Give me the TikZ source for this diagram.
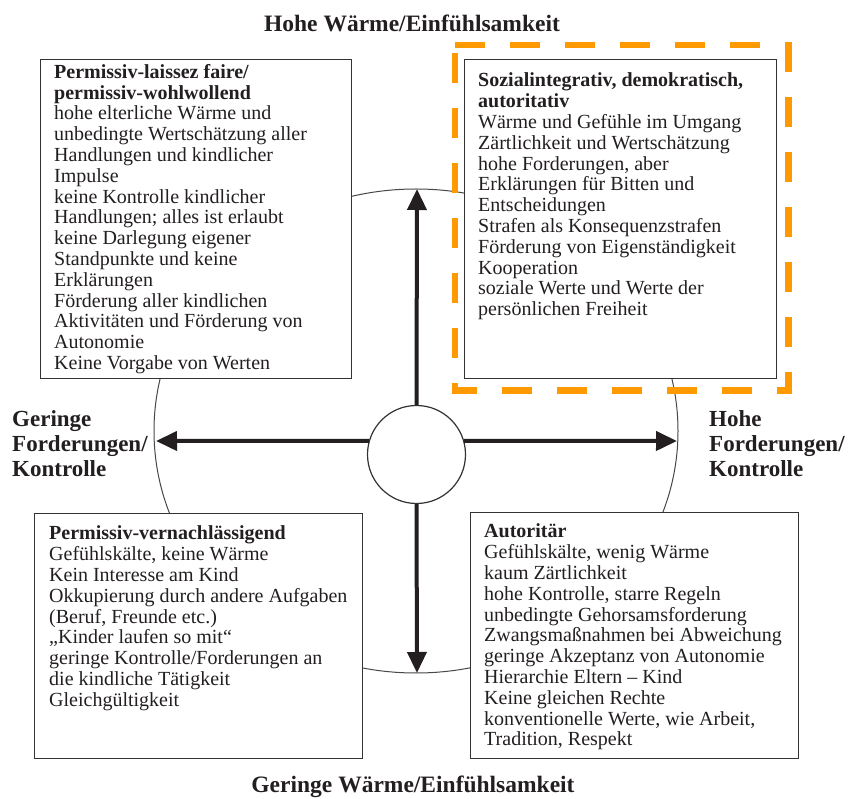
\documentclass[tikz,border=0pt]{standalone}
\usepackage{fontspec}
\setmainfont{Liberation Serif}
\usetikzlibrary{arrows.meta,shapes.geometric}
\definecolor{ink}{HTML}{231F20}
\definecolor{boxline}{HTML}{333333}
\definecolor{hlorange}{HTML}{FF9900}
\tikzset{
  boxframe/.style={draw=boxline, line width=1.3pt, fill=white, rectangle, inner sep=0pt, anchor=north west},
  boxtext/.style={anchor=base west, inner sep=0pt, text=ink, font=\fontsize{20}{20.8}\selectfont},
  axislabel/.style={anchor=base west, inner sep=0pt, text=ink, font=\fontsize{23}{25}\selectfont\bfseries},
  titlelabel/.style={anchor=base, inner sep=0pt, text=ink, font=\fontsize{23.5}{25}\selectfont\bfseries},
  axisarrow/.style={line width=4pt, draw=ink, -{Triangle[length=21pt,width=19pt]}},
  hlarea/.style={rectangle, inner sep=0pt, anchor=north west},
  hlline/.style={draw=hlorange, line width=6.5pt, dash pattern=on 30pt off 25pt, dash phase=0pt, line cap=butt, line join=miter}
}
\begin{document}
\begin{tikzpicture}[x=1pt,y=-1pt]
\useasboundingbox[fill=white] (0,0) rectangle (863,799);

% outer ellipse
\node[draw=boxline!90, line width=1pt, ellipse, minimum width=524pt, minimum height=484pt, inner sep=0pt] (ring) at (416,431) {};

% boxes
\node[boxframe, minimum width=311pt, minimum height=319pt] (tlbox) at (40,59) {};
\node[boxframe, minimum width=312pt, minimum height=319pt] (trbox) at (464,59) {};
\node[boxframe, minimum width=328pt, minimum height=245pt] (blbox) at (34,513) {};
\node[boxframe, minimum width=328pt, minimum height=246pt] (brbox) at (470,512) {};

% box texts
\node[boxtext] (tltext) at (54,78.3) {\begin{tabular}[t]{@{}l@{}}
\textbf{Permissiv-laissez faire/}\\
\textbf{permissiv-wohlwollend}\\
hohe elterliche Wärme und\\
unbedingte Wertschätzung aller\\
Handlungen und kindlicher\\
Impulse\\
keine Kontrolle kindlicher\\
Handlungen; alles ist erlaubt\\
keine Darlegung eigener\\
Standpunkte und keine\\
Erklärungen\\
Förderung aller kindlichen\\
Aktivitäten und Förderung von\\
Autonomie\\
Keine Vorgabe von Werten
\end{tabular}};

\node[boxtext] (trtext) at (478,87) {\begin{tabular}[t]{@{}l@{}}
\textbf{Sozialintegrativ, demokratisch,}\\
\textbf{autoritativ}\\
Wärme und Gefühle im Umgang\\
Zärtlichkeit und Wertschätzung\\
hohe Forderungen, aber\\
Erklärungen für Bitten und\\
Entscheidungen\\
Strafen als Konsequenzstrafen\\
Förderung von Eigenständigkeit\\
Kooperation\\
soziale Werte und Werte der\\
persönlichen Freiheit
\end{tabular}};

\node[boxtext] (bltext) at (49,540) {\begin{tabular}[t]{@{}l@{}}
\textbf{Permissiv-vernachlässigend}\\
Gefühlskälte, keine Wärme\\
Kein Interesse am Kind\\
Okkupierung durch andere Aufgaben\\
(Beruf, Freunde etc.)\\
„Kinder laufen so mit“\\
geringe Kontrolle/Forderungen an\\
die kindliche Tätigkeit\\
Gleichgültigkeit
\end{tabular}};

\node[boxtext] (brtext) at (484,538) {\begin{tabular}[t]{@{}l@{}}
\textbf{Autoritär}\\
Gefühlskälte, wenig Wärme\\
kaum Zärtlichkeit\\
hohe Kontrolle, starre Regeln\\
unbedingte Gehorsamsforderung\\
Zwangsmaßnahmen bei Abweichung\\
geringe Akzeptanz von Autonomie\\
Hierarchie Eltern – Kind\\
Keine gleichen Rechte\\
konventionelle Werte, wie Arbeit,\\
Tradition, Respekt
\end{tabular}};

% centre circle
\node[draw=boxline, line width=1.2pt, circle, fill=white, minimum size=98pt, inner sep=0pt] (hub) at (416.5,454.5) {};

% arrow tips on the ellipse
\coordinate (tipN) at (417,189);
\coordinate (tipS) at (417,673);
\coordinate (tipW) at (156,441);
\coordinate (tipE) at (677,441);

\draw[axisarrow] (hub.north) -- (tipN);
\draw[axisarrow] (hub.south) -- (tipS);
\draw[axisarrow] (hub.164) -- (tipW);
\draw[axisarrow] (hub.16) -- (tipE);

% axis labels
\node[titlelabel] (top) at (412,32) {Hohe Wärme/Einfühlsamkeit};
\node[titlelabel] (bottom) at (413,792) {Geringe Wärme/Einfühlsamkeit};
\node[axislabel] (left) at (12,427) {\begin{tabular}[t]{@{}l@{}}Geringe\\Forderungen/\\Kontrolle\end{tabular}};
\node[axislabel] (right) at (709,427) {\begin{tabular}[t]{@{}l@{}}Hohe\\Forderungen/\\Kontrolle\end{tabular}};

% orange highlight
\node[hlarea, minimum width=333pt, minimum height=345pt] (hl) at (455,45) {};
\draw[hlline] (hl.north west) -- (hl.north east) -- (hl.south east) -- (hl.south west) -- cycle;
\end{tikzpicture}
\end{document}
